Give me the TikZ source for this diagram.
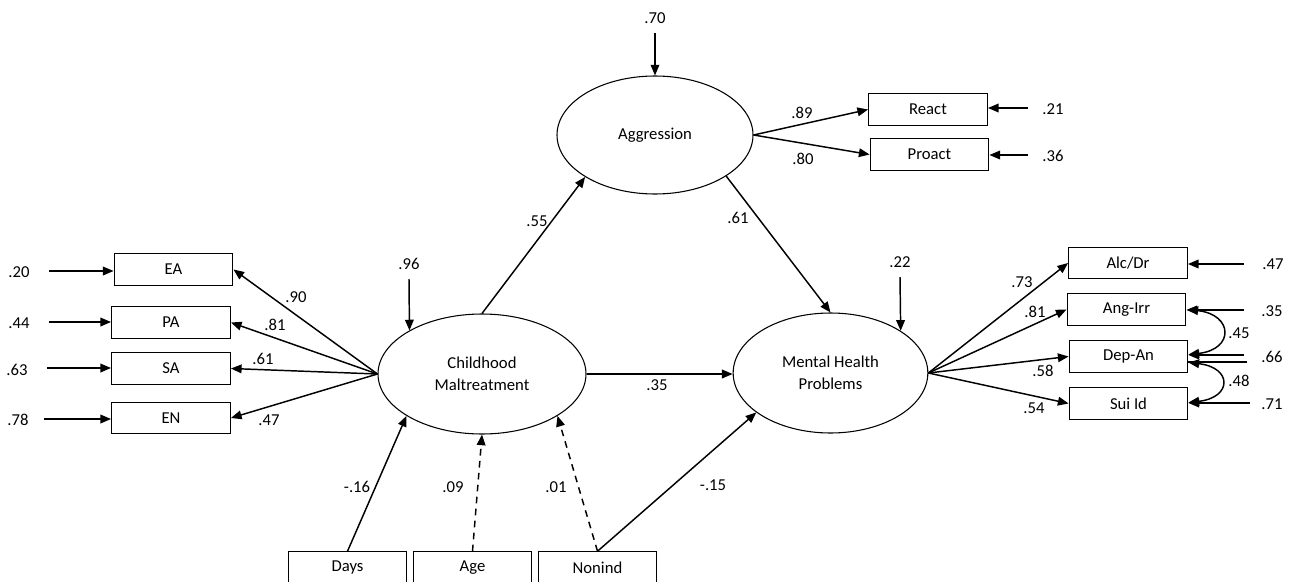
\documentclass[tikz,border=0pt]{standalone}
\usepackage{fontspec}
\setmainfont{Carlito}
\usetikzlibrary{arrows.meta,shapes.geometric,calc}
\begin{document}
\begin{tikzpicture}[x=0.75pt,y=-0.75pt,
  font=\fontsize{12.5}{16.5}\selectfont,
  box/.style={draw,line width=0.9pt,minimum width=89pt,minimum height=23.5pt,inner sep=0pt},
  latent/.style={draw,ellipse,line width=0.8pt,inner sep=0pt,align=center},
  lbl/.style={inner sep=0pt},
  reg/.style={line width=1.1pt,-{Triangle[length=8pt,width=6.5pt]}},
  nsreg/.style={reg,dash pattern=on 5pt off 4pt},
  corr/.style={line width=1.1pt,{Triangle[length=8pt,width=6.5pt]}-{Triangle[length=8pt,width=6.5pt]}},
  plain/.style={line width=1.1pt},
]
\useasboundingbox (0,0) rectangle (1297,582);

% latent variables
\node[latent,minimum width=156pt,minimum height=90pt] (CM) at (482,374) {Childhood\\Maltreatment};
\node[latent,minimum width=146pt,minimum height=90pt] (MHP) at (830.5,373) {Mental Health\\Problems};
\node[latent,minimum width=147pt,minimum height=88.5pt] (AGG) at (655,135) {Aggression};

% maltreatment indicators
\node[box] (EA) at (173.5,269.5) {EA};
\node[box] (PA) at (171,322.5) {PA};
\node[box] (SA) at (171,368.5) {SA};
\node[box] (EN) at (171,418) {EN};

% aggression indicators
\node[box] (RE) at (928,109.5) {React};
\node[box] (PR) at (929.5,154.5) {Proact};

% mental health indicators
\node[box] (AD) at (1128,263) {Alc/Dr};
\node[box] (AI) at (1126.5,309.5) {Ang-Irr};
\node[box] (DA) at (1128.5,356.5) {Dep-An};
\node[box] (SI) at (1128.5,403.5) {Sui Id};

% covariates
\node[box] (DY) at (347.5,567.5) {Days};
\node[box] (AGE) at (472.5,567.5) {Age};
\node[box] (NI) at (597.5,567.5) {Nonind};

% structural paths
\draw[reg] (CM.north) -- (AGG.211.6);
\draw[reg] (AGG.-30) -- (MHP.north);
\draw[reg] (CM.east) -- (CM.east -| MHP.west);
\draw[reg] (DY.north) -- (CM.209.6);
\draw[nsreg] (AGE.north) -- (CM.south);
\draw[nsreg] (NI.north) -- (CM.-29);
\draw[reg] (NI.north) -- (MHP.208);

\node[lbl] at (537,221) {.55};
\node[lbl] at (738,218) {.61};
\node[lbl] at (657,385) {.35};
\node[lbl] at (357,487) {-.16};
\node[lbl] at (453,487) {.09};
\node[lbl] at (556,487) {.01};
\node[lbl] at (713,485) {-.15};

% disturbances of the latent variables
\node[lbl] (dAGG) at (655,18) {.70};
\coordinate (sAGG) at (655,33);
\draw[reg] (sAGG) -- (AGG.north);
\node[lbl] (dCM) at (409,264) {.96};
\coordinate (sCM) at (409,279);
\draw[reg] (sCM) -- (CM.149.5);
\node[lbl] (dMHP) at (900,262) {.22};
\coordinate (sMHP) at (900,277);
\draw[reg] (sMHP) -- (MHP.31);

% loadings: childhood maltreatment
\draw[reg] (CM.west) -- (EA.east);
\draw[reg] (CM.west) -- (PA.east);
\draw[reg] (CM.west) -- (SA.east);
\draw[reg] (CM.west) -- (EN.east);
\node[lbl] at (296,297) {.90};
\node[lbl] at (275,325) {.81};
\node[lbl] at (263,359) {.61};
\node[lbl] at (269,420) {.47};

% loadings: aggression
\draw[reg] (AGG.east) -- (RE.west);
\draw[reg] (AGG.east) -- (PR.west);
\node[lbl] at (802,113) {.89};
\node[lbl] at (803,159) {.80};

% loadings: mental health problems
\draw[reg] (MHP.east) -- (AD.west);
\draw[reg] (MHP.east) -- (AI.west);
\draw[reg] (MHP.east) -- (DA.west);
\draw[reg] (MHP.east) -- (SI.west);
\node[lbl] at (1022,282) {.73};
\node[lbl] at (1035,312) {.81};
\node[lbl] at (1043,371) {.58};
\node[lbl] at (1034,408) {.54};

% residuals: left indicators
\node[lbl] at (19,272) {.20};
\node[lbl] at (19,323) {.44};
\node[lbl] at (17,370) {.63};
\node[lbl] at (18,420) {.78};
\coordinate (rEA) at (49,271);
\coordinate (rPA) at (49,322);
\coordinate (rSA) at (47,368);
\coordinate (rEN) at (44,419);
\draw[reg] (rEA) -- (rEA -| EA.west);
\draw[reg] (rPA) -- (rPA -| PA.west);
\draw[reg] (rSA) -- (rSA -| SA.west);
\draw[reg] (rEN) -- (rEN -| EN.west);

% residuals: aggression indicators
\node[lbl] at (1053,109) {.21};
\node[lbl] at (1053,156) {.36};
\coordinate (rRE) at (1028,108);
\coordinate (rPR) at (1028,155);
\draw[reg] (rRE) -- (rRE -| RE.east);
\draw[reg] (rPR) -- (rPR -| PR.east);

% residuals: mental health indicators
\node[lbl] at (1273,264) {.47};
\node[lbl] at (1272,311) {.35};
\node[lbl] at (1272,357) {.66};
\node[lbl] at (1272,404) {.71};
\coordinate (rAD) at (1244,264);
\coordinate (rAI) at (1244,310);
\coordinate (rDA) at (1244,355);
\coordinate (rDB) at (1247,362);
\coordinate (rSI) at (1250,403);
\draw[reg] (rAD) -- (rAD -| AD.east);
\draw[reg] (rAI) -- (rAI -| AI.east);
\draw[reg] (rDA) -- (rDA -| DA.east);
\draw[plain] (rDB) -- (rDB -| DA.east);
\draw[reg] (rSI) -- (rSI -| SI.east);

% residual correlations
\draw[corr] ($(AI.east)+(1,0)$) .. controls +(46,5) and +(46,-5) .. ($(DA.east)+(0,-2)$);
\draw[corr] ($(DA.east)+(0,6)$) .. controls +(44,5) and +(44,-5) .. ($(SI.east)+(0,-1)$);
\node[lbl] at (1239,333) {.45};
\node[lbl] at (1239,381) {.48};
\end{tikzpicture}
\end{document}
